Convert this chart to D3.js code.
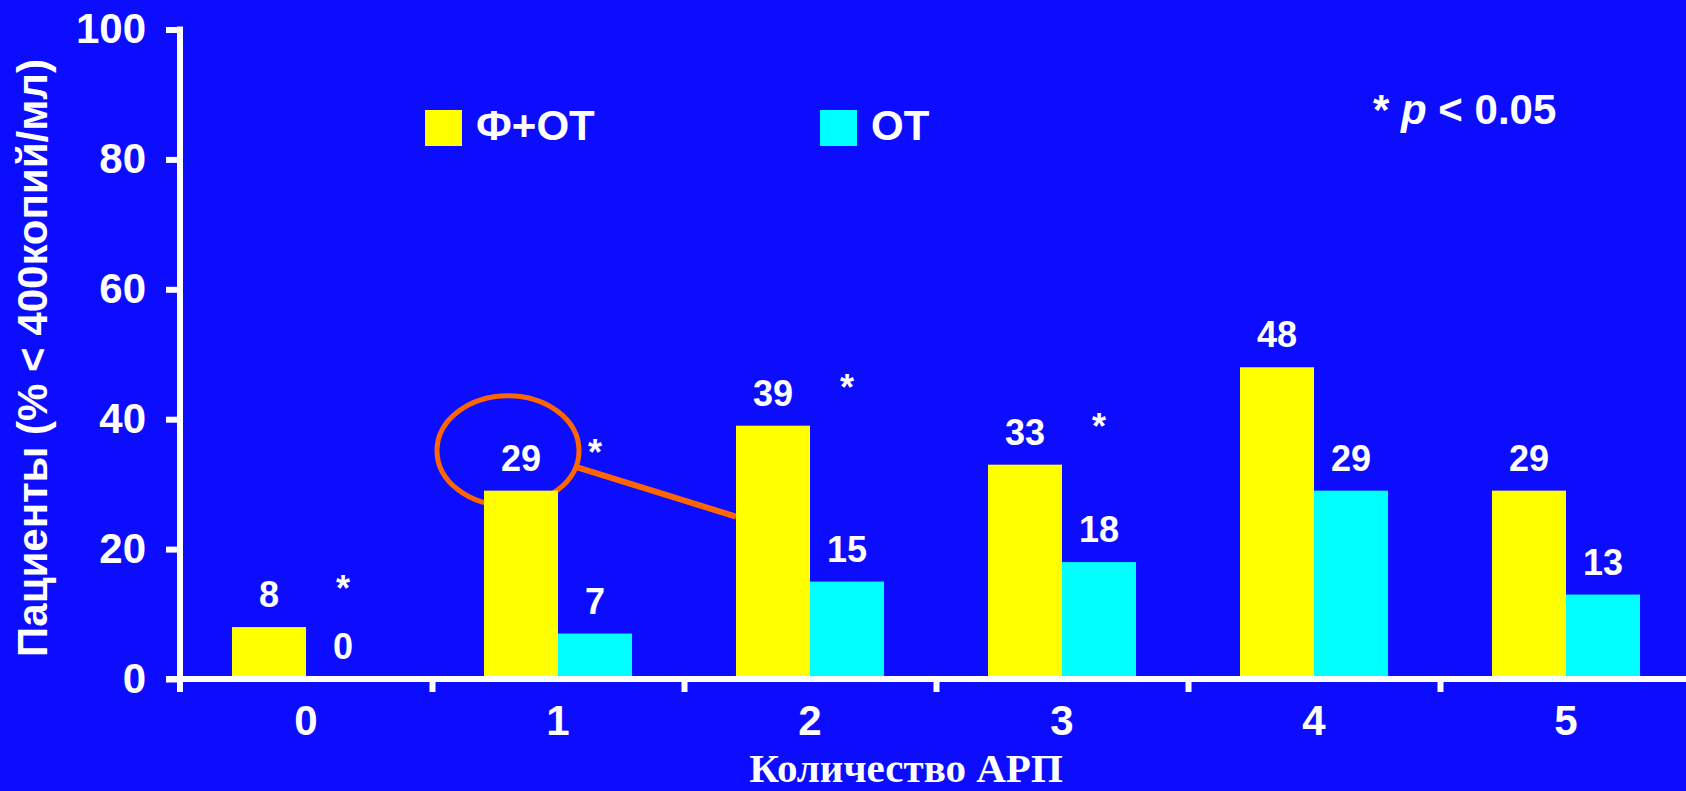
<!DOCTYPE html>
<html>
<head>
<meta charset="utf-8">
<script src="https://cdn.jsdelivr.net/npm/d3@7/dist/d3.min.js"></script>
<style>
  html, body { margin: 0; padding: 0; background: #0c0cff; }
  svg { display: block; }
  text { font-family: "Liberation Sans", Arial, sans-serif; fill: #fff; font-weight: bold; }
</style>
</head>
<body>
<script>
// Number of antiretroviral drugs (АРП) and share of patients with < 400 copies/ml
const categories = ["0", "1", "2", "3", "4", "5"];
const seriesNames = ["Ф+ОТ", "ОТ"];
const combinedValues = [8, 29, 39, 33, 48, 29];   // Ф+ОТ
const otValues = [0, 7, 15, 18, 29, 13];          // ОТ
const significant = [true, true, true, true, false, false];
const yTicks = [0, 20, 40, 60, 80, 100];
const highlightIndex = 1;   // circled value, linked to the next group

const W = 1686, H = 791;
const colors = { bg: "#0c0cff", yellow: "#ffff00", cyan: "#00ffff", orange: "#ff6600", white: "#ffffff" };

const svg = d3.select("body").append("svg").attr("width", W).attr("height", H);
svg.append("rect").attr("width", W).attr("height", H).attr("fill", colors.bg);

const x0 = 180, x1 = 1692, yBase = 679, yTop = 29.5;
const pad = (252 - 148) / 252;

const x = d3.scaleBand().domain(categories).range([x0, x1]).paddingInner(pad).paddingOuter(pad / 2);
const xs = d3.scaleBand().domain(seriesNames).range([0, x.bandwidth()]);
const y = d3.scaleLinear().domain([0, 100]).range([yBase, yTop]);
const bounds = d3.scaleLinear().domain([0, categories.length]).range([x0, x1]);

const rows = categories.map((c, i) => ({ c, i, vals: [combinedValues[i], otValues[i]] }));

// Annotation: ellipse around the highlighted label and a connector to the next group
const hc = x(categories[highlightIndex]) + xs(seriesNames[0]) + xs.bandwidth() / 2;
const hy = y(combinedValues[highlightIndex]);
const ell = { cx: hc - 13, cy: hy - 40, rx: 71, ry: 55 };
svg.append("ellipse")
  .attr("cx", ell.cx).attr("cy", ell.cy).attr("rx", ell.rx).attr("ry", ell.ry)
  .attr("fill", "none").attr("stroke", colors.orange).attr("stroke-width", 5);
const t = 0.3;
svg.append("line")
  .attr("x1", ell.cx + ell.rx * Math.cos(t)).attr("y1", ell.cy + ell.ry * Math.sin(t))
  .attr("x2", x(categories[highlightIndex + 1]) + xs(seriesNames[0]))
  .attr("y2", y(25))
  .attr("stroke", colors.orange).attr("stroke-width", 6);

// Bars
const groups = svg.append("g").selectAll("g").data(rows).join("g")
  .attr("transform", d => `translate(${x(d.c)},0)`);
groups.selectAll("rect").data(d => d.vals.map((v, k) => ({ v, k }))).join("rect")
  .attr("x", d => xs(seriesNames[d.k]))
  .attr("width", xs.bandwidth())
  .attr("y", d => y(d.v))
  .attr("height", d => yBase - y(d.v))
  .attr("fill", d => d.k === 0 ? colors.yellow : colors.cyan);

// Value labels
groups.selectAll("text.val").data(d => d.vals.map((v, k) => ({ v, k }))).join("text")
  .attr("class", "val")
  .attr("x", d => xs(seriesNames[d.k]) + xs.bandwidth() / 2)
  .attr("y", d => y(d.v) - 20)
  .attr("text-anchor", "middle")
  .style("font-size", "36px")
  .text(d => d.v);

// Significance markers
groups.filter(d => significant[d.i]).append("text")
  .attr("x", xs(seriesNames[1]) + xs.bandwidth() / 2)
  .attr("y", d => y(d.vals[0]) - 26)
  .attr("text-anchor", "middle")
  .style("font-size", "36px")
  .text("*");

// Y axis
const yAxis = svg.append("g").attr("transform", `translate(${x0},0)`)
  .call(d3.axisLeft(y).tickValues(yTicks).tickSize(14).tickPadding(20).tickSizeOuter(0));
yAxis.select(".domain").remove();
yAxis.selectAll(".tick line").attr("stroke", colors.white).attr("stroke-width", 6);
yAxis.selectAll(".tick text").style("font-size", "42px").style("font-family", "'Liberation Sans', Arial, sans-serif").attr("fill", colors.white);
svg.append("line").attr("x1", x0).attr("x2", x0).attr("y1", yTop - 3).attr("y2", yBase + 13)
  .attr("stroke", colors.white).attr("stroke-width", 6);

// X axis: baseline, boundary ticks, category labels
svg.append("line").attr("x1", x0 - 14).attr("x2", W).attr("y1", yBase).attr("y2", yBase)
  .attr("stroke", colors.white).attr("stroke-width", 6);
const bAxis = svg.append("g").attr("transform", `translate(0,${yBase})`)
  .call(d3.axisBottom(bounds).tickValues(d3.range(1, categories.length)).tickSize(13).tickFormat(""));
bAxis.select(".domain").remove();
bAxis.selectAll(".tick line").attr("stroke", colors.white).attr("stroke-width", 6);

const xAxis = svg.append("g").attr("transform", `translate(0,${yBase})`)
  .call(d3.axisBottom(x).tickSize(0).tickPadding(26));
xAxis.select(".domain").remove();
xAxis.selectAll(".tick text").style("font-size", "42px").style("font-family", "'Liberation Sans', Arial, sans-serif")
  .attr("fill", colors.white).attr("dy", "0.71em");

// Axis titles
svg.append("text")
  .attr("transform", "translate(47,358) rotate(-90)")
  .attr("text-anchor", "middle")
  .style("font-size", "42px")
  .text("Пациенты (% < 400копий/мл)");
svg.append("text")
  .attr("x", 906).attr("y", 782)
  .attr("text-anchor", "middle")
  .style("font-family", "'Liberation Serif', 'Times New Roman', serif")
  .style("font-size", "41px")
  .text("Количество АРП");

// Legend
const legend = [
  { name: seriesNames[0], color: colors.yellow, x: 425 },
  { name: seriesNames[1], color: colors.cyan, x: 820 }
];
const lg = svg.append("g").selectAll("g").data(legend).join("g")
  .attr("transform", d => `translate(${d.x},110)`);
lg.append("rect").attr("width", 37).attr("height", 36).attr("fill", d => d.color);
lg.append("text").attr("x", 51).attr("y", 30).style("font-size", "42px").text(d => d.name);

// Significance note
const note = svg.append("text").attr("x", 1373).attr("y", 124).style("font-size", "42px");
note.append("tspan").text("* ");
note.append("tspan").style("font-style", "italic").text("p");
note.append("tspan").text(" < 0.05");
</script>
</body>
</html>
